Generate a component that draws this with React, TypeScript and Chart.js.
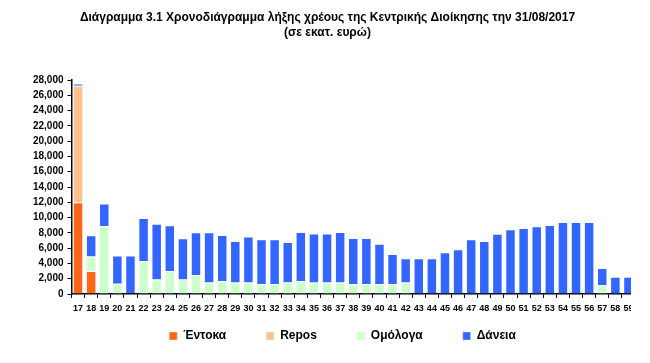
import React, { useEffect, useRef } from "react";
import { Chart, registerables } from "chart.js";

Chart.register(...registerables);

const categories = [
  "17","18","19","20","21","22","23","24","25","26","27","28","29","30","31","32","33","34","35","36","37","38",
  "39","40","41","42","43","44","45","46","47","48","49","50","51","52","53","54","55","56","57","58","59",
];

const entoka = [12000, 3000, 0, 0, 0, 0, 0, 0, 0, 0, 0, 0, 0, 0, 0, 0, 0, 0, 0, 0, 0, 0, 0, 0, 0, 0, 0, 0, 0, 0, 0, 0, 0, 0, 0, 0, 0, 0, 0, 0, 0, 0, 0];
const repos = [15250, 0, 0, 0, 0, 0, 0, 0, 0, 0, 0, 0, 0, 0, 0, 0, 0, 0, 0, 0, 0, 0, 0, 0, 0, 0, 0, 0, 0, 0, 0, 0, 0, 0, 0, 0, 0, 0, 0, 0, 0, 0, 0];
const omologa = [0, 1900, 8900, 1350, 0, 4300, 1900, 3000, 1900, 2450, 1500, 1700, 1500, 1500, 1300, 1300, 1500, 1700, 1500, 1500, 1500, 1300,
  1300, 1300, 1300, 1500, 0, 0, 0, 0, 0, 0, 0, 0, 0, 0, 0, 0, 0, 0, 1150, 0, 0];
const daneia = [300, 2800, 2950, 3700, 5050, 5650, 7300, 6000, 5400, 5620, 6570, 6020, 5450, 6020, 5850, 5850, 5300, 6410, 6400, 6400, 6610, 6030,
  6030, 5290, 3930, 3170, 4670, 4670, 5450, 5840, 7150, 6940, 7890, 8460, 8630, 8850, 9030, 9420, 9420, 9420, 2250, 2270, 2270];

const seriesNames = ["Έντοκα", "Repos", "Ομόλογα", "Δάνεια"];
const seriesColors = ["#FF661A", "#FFC08E", "#CCFFCC", "#3366FF"];
const titleLines = [
  "Διάγραμμα 3.1 Χρονοδιάγραμμα λήξης χρέους της Κεντρικής Διοίκησης την 31/08/2017",
  "(σε εκατ. ευρώ)",
];

const FONT = 'Arial, "Liberation Sans", sans-serif';
const LEGEND_DX = 21;
const LEGEND_TOP = 282;
const TITLE_DX = 6;

const boxShift = {
  id: "boxShift",
  afterLayout(chart: any) {
    const lg = chart.legend;
    if (lg) {
      lg.left += LEGEND_DX;
      lg.right += LEGEND_DX;
      lg.top = LEGEND_TOP;
      lg.bottom = LEGEND_TOP + 66;
    }
    const tb = chart.titleBlock;
    if (tb) {
      tb.left += TITLE_DX;
      tb.right += TITLE_DX;
    }
  },
};

export default function App() {
  const ref = useRef<HTMLCanvasElement | null>(null);
  useEffect(() => {
    if (!ref.current) return;
    const values = [entoka, repos, omologa, daneia];
    const chart = new Chart(ref.current, {
      type: "bar",
      data: {
        labels: categories,
        datasets: values.map((v, i) => ({
          label: seriesNames[i],
          data: v,
          backgroundColor: seriesColors[i],
          borderColor: "rgba(255,255,255,0.35)",
          borderWidth: 1,
          barPercentage: 0.8,
          categoryPercentage: 1,
        })),
      },
      options: {
        responsive: false,
        animation: false,
        layout: { padding: { left: 0, right: 13, top: 0, bottom: 0 } },
        plugins: {
          title: {
            display: true,
            text: titleLines,
            color: "#000",
            font: { family: FONT, size: 12, weight: "bold", lineHeight: 1.25 },
            padding: { top: 2, bottom: 40 },
          },
          legend: {
            position: "bottom",
            maxHeight: 30,
            labels: {
              boxWidth: 8,
              boxHeight: 8,
              padding: 40,
              color: "#000",
              font: { family: FONT, size: 12, weight: "bold" },
            },
          },
          tooltip: { enabled: false },
        },
        scales: {
          x: {
            stacked: true,
            offset: true,
            grid: {
              display: true,
              offset: true,
              drawOnChartArea: false,
              drawTicks: true,
              tickLength: 4,
              color: "#000",
            },
            border: { display: true, color: "#000", width: 1.5 },
            ticks: {
              color: "#000",
              padding: 5,
              maxRotation: 0,
              autoSkip: false,
              font: { family: FONT, size: 9, weight: "bold" },
            },
            afterFit: (s: any) => { s.height = 34; },
          },
          y: {
            stacked: true,
            min: 0,
            max: 28000,
            grid: {
              display: true,
              drawOnChartArea: false,
              drawTicks: true,
              tickLength: 4,
              color: "#000",
            },
            border: { display: true, color: "#000", width: 1.5 },
            ticks: {
              stepSize: 2000,
              color: "#000",
              padding: 4,
              font: { family: FONT, size: 10, weight: "bold" },
              callback: (v: any) => Number(v).toLocaleString("en-US"),
            },
            afterFit: (s: any) => { s.width = 63.5; },
          },
        },
      },
      plugins: [boxShift],
    });
    return () => chart.destroy();
  }, []);
  return (
    <div style={{ width: 623, height: 350, overflow: "hidden" }}>
      <canvas ref={ref} width={640} height={350} style={{ display: "block" }} />
    </div>
  );
}
